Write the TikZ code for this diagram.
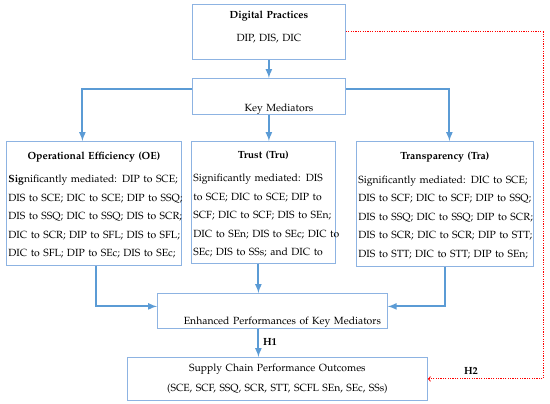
\documentclass[tikz,border=0pt]{standalone}
\usepackage[T1]{fontenc}
\usepackage{mathpazo}
\usepackage{tikz}
\usetikzlibrary{arrows}

\definecolor{boxblue}{HTML}{8DB3E2}
\definecolor{linkblue}{HTML}{5B9BD5}

\newcommand{\fullline}[2]{\makebox[#1][s]{#2}}

\begin{document}
\begin{tikzpicture}[
				x=1pt, y=-1pt,
				box style/.style={
					draw=boxblue,
					line width=0.8pt,
					anchor=north west,
					inner xsep=2pt,
					inner ysep=2pt,
					align=center,
					font=\fontsize{10.4}{18.5}\selectfont
				},
				arrow style/.style={->, draw=linkblue, line width=2pt},
				h2 style/.style={->, >=to, draw=red, dash pattern=on 1.2pt off 1.2pt, line width=1pt},
				label style/.style={font=\fontsize{10.4}{12}\selectfont\bfseries},
				>=latex
				]
				
				\useasboundingbox (0,0) rectangle (550,404);
				
				\node[box style, text width=149pt, minimum height=55pt] (dp) at (192,4)
				{\textbf{Digital Practices}\\[4.5pt]DIP, DIS, DIC\rule[-12pt]{0pt}{1pt}};
				
				\node[box style, text width=149pt, inner ysep=0pt, minimum height=35pt] (km) at (192,78)
				{\hspace*{20pt}\rule{0pt}{33pt}Key Mediators};
				
				\node[box style, text width=171pt, minimum height=124pt] (oe) at (6,141)
				{\rule[-15pt]{0pt}{26pt}\textbf{Operational Efficiency (OE)}\\
					\fullline{171pt}{\textbf{Sig}nificantly mediated: DIP to SCE;}\\
					\fullline{171pt}{DIS to SCE; DIC to SCE; DIP to SSQ;}\\
					\fullline{171pt}{DIS to SSQ; DIC to SSQ; DIS to SCR;}\\
					\fullline{171pt}{DIC to SCR; DIP to SFL; DIS to SFL;}\\
					\fullline{171pt}{DIC to SFL; DIP to SEc; DIS to SEc;}};
				
				\node[box style, text width=140pt, minimum height=122pt] (tru) at (191,141)
				{\rule[-15pt]{0pt}{26pt}\textbf{Trust (Tru)}\\
					\fullline{140pt}{Significantly mediated: DIS}\\
					\fullline{140pt}{to SCE; DIC to SCE; DIP to}\\
					\fullline{140pt}{SCF; DIC to SCF; DIS to SEn;}\\
					\fullline{140pt}{DIC to SEn; DIS to SEc; DIC to}\\
					\fullline{140pt}{SEc; DIS to SSs; and DIC to}};
				
				\node[box style, text width=173pt, minimum height=125pt] (tra) at (356,141)
				{\rule[-15pt]{0pt}{26pt}\textbf{Transparency (Tra)}\\
					\fullline{173pt}{Significantly mediated: DIC to SCE;}\\
					\fullline{173pt}{DIS to SCF; DIC to SCF; DIP to SSQ;}\\
					\fullline{173pt}{DIS to SSQ; DIC to SSQ; DIP to SCR;}\\
					\fullline{173pt}{DIS to SCR; DIC to SCR; DIP to STT;}\\
					\fullline{173pt}{DIS to STT; DIC to STT; DIP to SEn;}};
				
				\node[box style, text width=226pt, inner ysep=0pt, minimum height=35pt] (enh) at (157,293)
				{\hspace*{20pt}\rule{0pt}{31pt}Enhanced Performances of Key Mediators};
				
				\node[box style, text width=296pt, minimum height=43pt,
				font=\fontsize{10.4}{20}\selectfont] (out) at (127,357)
				{Supply Chain Performance Outcomes\\
					(SCE, SCF, SSQ, SCR, STT, SCFL SEn, SEc, SSs)};
				
				\node[label style] (h1) at (270,342) {H1};
				\node[label style] (h2) at (471,371) {H2};
				
				\coordinate (h2 corner) at (543,378);
				
				\draw[arrow style] (dp.south) -- (km.north);
				\draw[arrow style] ([yshift=7pt]km.west) -| ([xshift=-11.5pt]oe.north);
				\draw[arrow style] (km.south) -- (km.south |- tru.north);
				\draw[arrow style] ([yshift=7pt]km.east) -| ([xshift=4.5pt]tra.north);
				\draw[arrow style] ([xshift=2.5pt]oe.south) |- ([yshift=4.5pt]enh.west);
				\draw[arrow style] ([xshift=-5pt]tru.south) -- ([xshift=-5pt]tru.south |- enh.north);
				\draw[arrow style] (tra.south) |- ([yshift=4.5pt]enh.east);
				\draw[arrow style] ([xshift=-14pt]enh.south) -- ([xshift=-14pt]enh.south |- out.north);
				\draw[h2 style] (dp.east) -- (dp.east -| h2 corner) |- (out.east);
				
			\end{tikzpicture}
\end{document}
